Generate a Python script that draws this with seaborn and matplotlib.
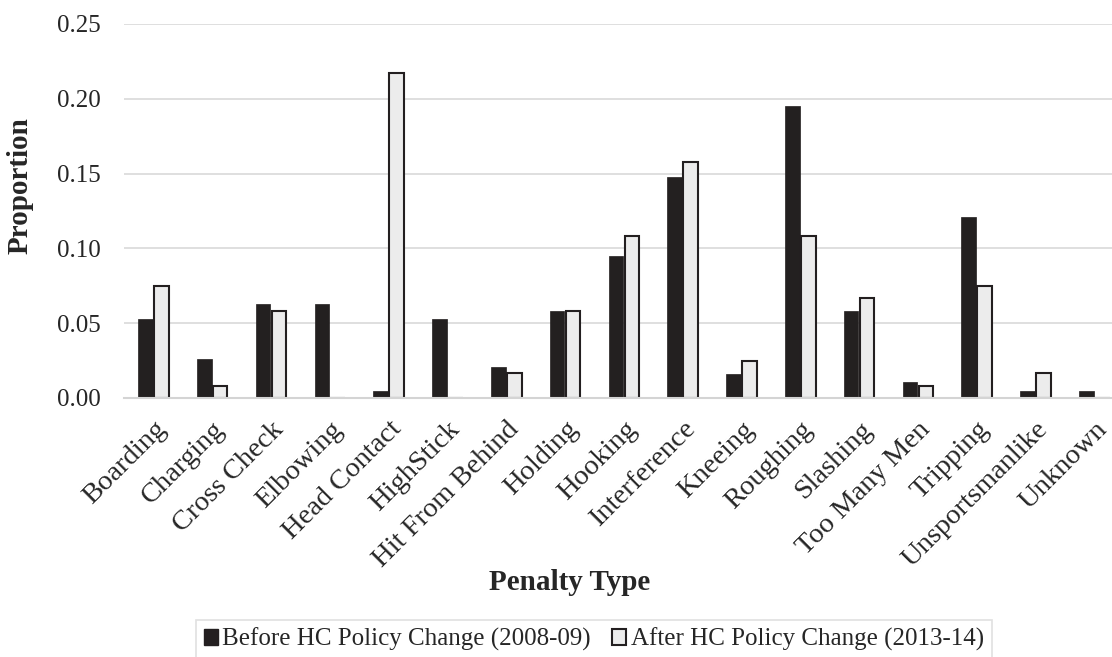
import numpy as np
import pandas as pd
import matplotlib
matplotlib.use('Agg')
import matplotlib.pyplot as plt
import seaborn as sns

# values
penalties = ['Boarding', 'Charging', 'Cross Check', 'Elbowing', 'Head Contact', 'HighStick',
             'Hit From Behind', 'Holding', 'Hooking', 'Interference', 'Kneeing', 'Roughing',
             'Slashing', 'Too Many Men', 'Tripping', 'Unsportsmanlike', 'Unknown']
before = [0.053, 0.026, 0.063, 0.063, 0.005, 0.053, 0.021, 0.058, 0.095, 0.148, 0.016,
          0.195, 0.058, 0.011, 0.121, 0.005, 0.005]
after = [0.075, 0.008, 0.058, 0.0, 0.217, 0.0, 0.017, 0.058, 0.108, 0.158, 0.025,
         0.108, 0.067, 0.008, 0.075, 0.017, 0.0]
series = ['Before HC Policy Change (2008-09)', 'After HC Policy Change (2013-14)']
yticks = [0.00, 0.05, 0.10, 0.15, 0.20, 0.25]

df = pd.DataFrame({
    'Penalty Type': penalties * 2,
    'Proportion': before + after,
    'Period': [series[0]] * len(penalties) + [series[1]] * len(penalties),
})

sns.set_style('white')
plt.rcParams['font.family'] = ['Liberation Serif', 'DejaVu Serif']

fig = plt.figure(figsize=(11.12, 6.57), dpi=100)
ax = fig.add_axes([124 / 1112, (657 - 398) / 657, (1112 - 124) / 1112, 374 / 657])

sns.barplot(data=df, x='Penalty Type', y='Proportion', hue='Period', hue_order=series,
            palette=['#231f20', '#ececec'], width=0.54, gap=0.08, ax=ax, legend=False)

# dark outline on the light bars
for patch in ax.containers[1]:
    patch.set_edgecolor('#231f20')
    patch.set_linewidth(1.5)
for patch in ax.containers[0]:
    patch.set_edgecolor('#231f20')
    patch.set_linewidth(0.5)

ax.set_ylim(0, 0.25)
ax.set_xlim(-0.5, 16.3)
ax.set_yticks(yticks)
ax.set_yticklabels(['%.2f' % v for v in yticks])
ax.yaxis.grid(True, color='#d9d9d9', linewidth=1.2)
ax.set_axisbelow(True)
for s in ['top', 'right', 'left']:
    ax.spines[s].set_visible(False)
ax.spines['bottom'].set_color('#d4d4d4')
ax.spines['bottom'].set_linewidth(1.5)

ax.tick_params(axis='y', length=0, pad=17, labelsize=18)
ax.tick_params(axis='x', length=0, pad=13.5, labelsize=20.5)
plt.setp(ax.get_xticklabels(), rotation=45, ha='right', va='top', rotation_mode='anchor')

# rotated label: its 'bottom' side faces right
ax.set_ylabel('Proportion', fontsize=21, fontweight='bold')
ax.yaxis.set_label_coords((34 - 124) / 988, (398 - 186) / 374)
ax.set_xlabel('Penalty Type', fontsize=21, fontweight='bold')
ax.xaxis.label.set_va('baseline')
ax.xaxis.set_label_coords((570 - 124) / 988, -(590 - 398) / 374)

handles = [plt.Rectangle((0, 0), 1, 1, facecolor='#231f20', edgecolor='#231f20'),
           plt.Rectangle((0, 0), 1, 1, facecolor='#ececec', edgecolor='#231f20', linewidth=1.5)]
leg = fig.legend(handles, series, loc='upper center', bbox_to_anchor=(594 / 1112, 1 - 620 / 657),
                 ncol=2, frameon=True, fancybox=False, edgecolor='#d9d9d9', fontsize=18,
                 handlelength=0.55, handleheight=0.6, handletextpad=0.2, columnspacing=0.85,
                 borderpad=0.3, borderaxespad=0)
leg.get_frame().set_linewidth(1.2)

fig.savefig('out.png', dpi=100)
